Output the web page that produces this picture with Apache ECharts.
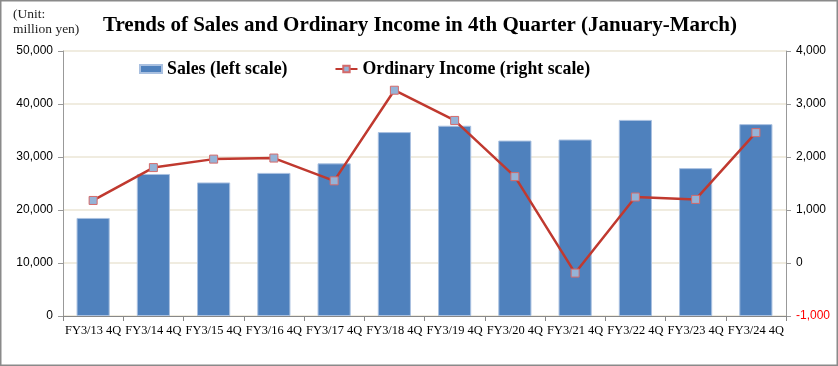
<!DOCTYPE html>
<html><head><meta charset="utf-8">
<script src="https://cdn.jsdelivr.net/npm/echarts@6/dist/echarts.min.js"></script>
<style>html,body{margin:0;padding:0;background:#fff}#c{width:838px;height:366px}</style>
</head><body><div id="c"></div>
<script>
const categories = ['FY3/13 4Q','FY3/14 4Q','FY3/15 4Q','FY3/16 4Q','FY3/17 4Q','FY3/18 4Q','FY3/19 4Q','FY3/20 4Q','FY3/21 4Q','FY3/22 4Q','FY3/23 4Q','FY3/24 4Q'];
const sales = [18500, 26800, 25200, 27000, 28800, 34700, 35900, 33100, 33300, 37000, 27900, 36200];
const ordinaryIncome = [1180, 1800, 1960, 1980, 1550, 3260, 2690, 1630, -190, 1245, 1200, 2460];
const leftTicks = [0, 10000, 20000, 30000, 40000, 50000];
const rightTicks = [-1000, 0, 1000, 2000, 3000, 4000];

const fmt = v => v.toLocaleString('en-US');
const chart = echarts.init(document.getElementById('c'));
chart.setOption({
  animation: false,
  backgroundColor: '#fff',
  graphic: [
    {type:'rect', shape:{x:0.5,y:0.5,width:837,height:365}, style:{fill:'none', stroke:'#8a8a8a', lineWidth:2}, z:100},
    {type:'text', left:13, top:7, style:{text:'(Unit:\nmillion yen)', font:'13.5px "Liberation Serif"', fill:'#222', lineHeight:15}}
  ],
  title: {
    text: 'Trends of Sales and Ordinary Income in 4th Quarter (January-March)',
    left: 415, top: 10, textAlign: 'center',
    textStyle: {fontFamily:'Liberation Serif', fontSize:21, fontWeight:'bold', color:'#000'}
  },
  legend: {
    top: 55, left: 134, itemGap: 47, itemWidth: 22, itemHeight: 8,
    textStyle: {fontFamily:'Liberation Serif', fontSize:17.8, fontWeight:'bold', color:'#000'},
    data: [
      {name:'Sales (left scale)', icon:'rect'},
      {name:'Ordinary Income (right scale)'}
    ]
  },
  grid: {left: 63, right: 52, top: 51, bottom: 50},
  xAxis: {
    type: 'category', data: categories,
    axisLine: {lineStyle:{color:'#888'}},
    axisTick: {show:true, alignWithLabel:false, lineStyle:{color:'#888'}, length:5},
    axisLabel: {fontFamily:'Liberation Serif', fontSize:12.4, color:'#000', margin:9, interval:0}
  },
  yAxis: [
    {type:'value', min:leftTicks[0], max:leftTicks[leftTicks.length-1], interval:10000, position:'left',
     axisLine:{show:true, lineStyle:{color:'#999'}},
     axisTick:{show:true, length:5, lineStyle:{color:'#999'}},
     splitLine:{show:true, lineStyle:{color:'#ebe6d6', width:1.5}},
     axisLabel:{fontFamily:'Liberation Sans', fontSize:12, color:'#000', margin:10, formatter: fmt}},
    {type:'value', min:rightTicks[0], max:rightTicks[rightTicks.length-1], interval:1000, position:'right',
     axisLine:{show:true, lineStyle:{color:'#999'}},
     axisTick:{show:true, length:5, lineStyle:{color:'#999'}},
     splitLine:{show:false},
     axisLabel:{fontFamily:'Liberation Sans', fontSize:12, margin:10,
       formatter: fmt, color: v => v < 0 ? '#ff0000' : '#000'}}
  ],
  series: [
    {name:'Sales (left scale)', type:'bar', data:sales, yAxisIndex:0, barWidth:'55%',
     itemStyle:{color:'#4f81bd', borderColor:'#a9c0e0', borderWidth:1}},
    {name:'Ordinary Income (right scale)', type:'line', data:ordinaryIncome, yAxisIndex:1,
     symbol:'rect', symbolSize:8,
     lineStyle:{color:'#c0392f', width:2.5},
     itemStyle:{color:'#95b3d7', borderColor:'#d46a6a', borderWidth:1}, z:5}
  ]
});
</script></body></html>
